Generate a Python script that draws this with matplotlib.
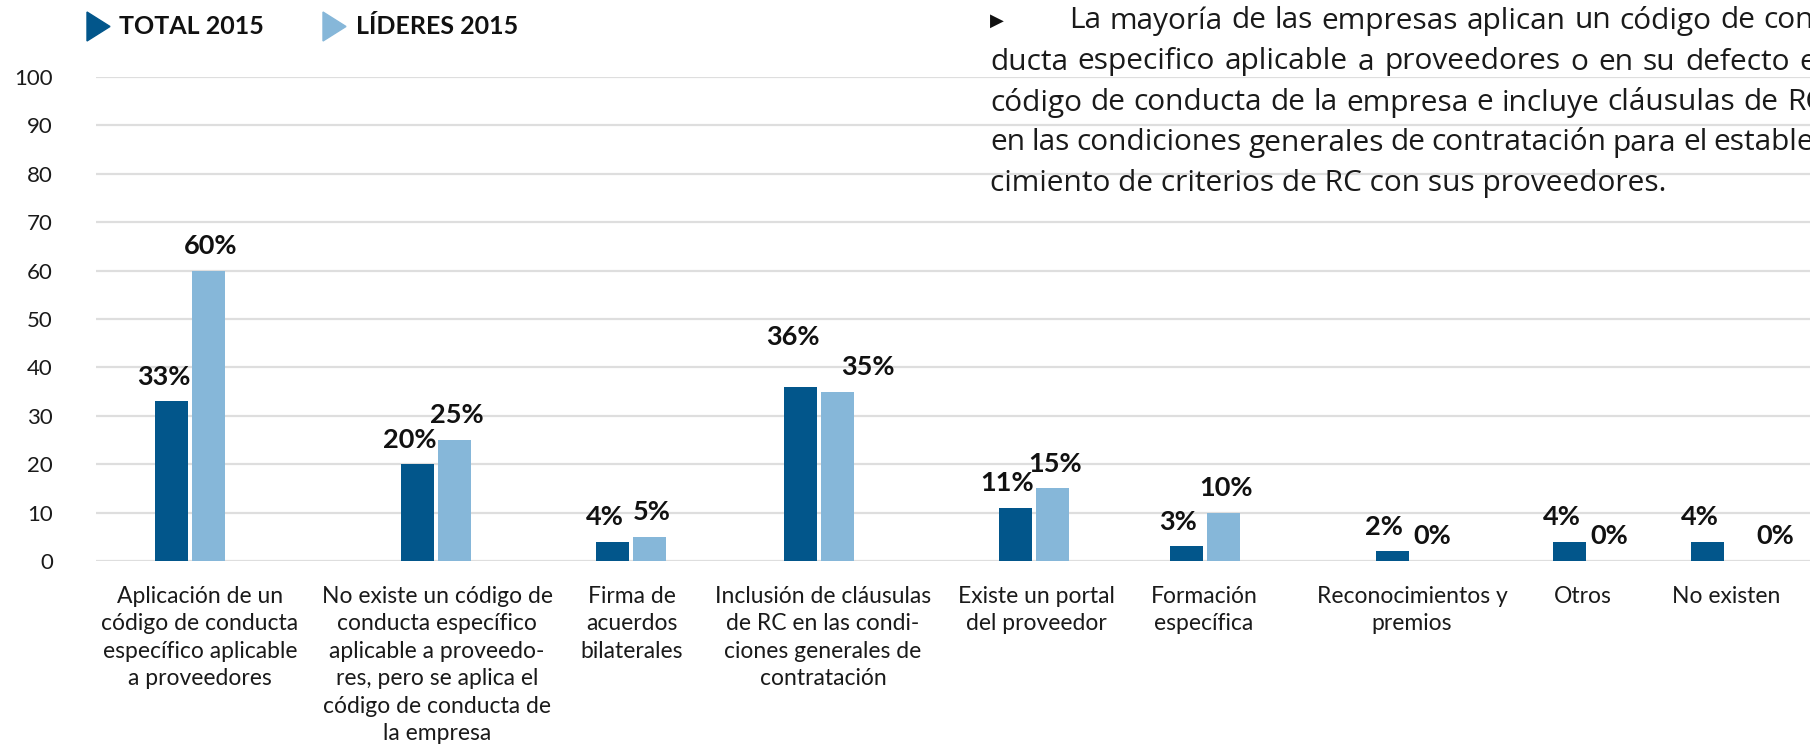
import numpy as np
import matplotlib.pyplot as plt
from matplotlib.patches import Polygon

plt.rcParams['font.family'] = ['Lato', 'DejaVu Sans']

categories = [
    "Aplicación de un\ncódigo de conducta\nespecífico aplicable\na proveedores",
    "No existe un código de\nconducta específico\naplicable a proveedo-\nres, pero se aplica el\ncódigo de conducta de\nla empresa",
    "Firma de\nacuerdos\nbilaterales",
    "Inclusión de cláusulas\nde RC en las condi-\nciones generales de\ncontratación",
    "Existe un portal\ndel proveedor",
    "Formación\nespecífica",
    "Reconocimientos y\npremios",
    "Otros",
    "No existen",
]
total_2015 = [33, 20, 4, 36, 11, 3, 2, 4, 4]
lideres_2015 = [60, 25, 5, 35, 15, 10, 0, 0, 0]
series_names = ["TOTAL 2015", "LÍDERES 2015"]

paragraph = [
    "La mayoría de las empresas aplican un código de con-",
    "ducta especifico aplicable a proveedores o en su defecto el",
    "código de conducta de la empresa e incluye cláusulas de RC",
    "en las condiciones generales de contratación para el estable-",
    "cimiento de criterios de RC con sus proveedores.",
]

DARK = '#02568b'
LIGHT = '#86b7d9'

W, H = 1810, 754
fig = plt.figure(figsize=(W / 100, H / 100), dpi=100)

# axes laid out in pixel units so group slots follow the original spacing
ax = fig.add_axes([96 / W, 193 / H, (W - 96) / W, 484 / H])
slot_x = np.array([190, 436, 631, 819, 1034, 1205, 1411, 1588, 1726])
label_x = np.array([200, 437, 632, 823, 1036, 1204, 1412, 1583, 1726])
bw = 33
gap = 3.5

b1 = ax.bar(slot_x - (bw + gap) / 2, total_2015, width=bw, color=DARK, zorder=3)
b2 = ax.bar(slot_x + (bw + gap) / 2, lideres_2015, width=bw, color=LIGHT, zorder=3)

for i, (r1, r2, v1, v2) in enumerate(zip(b1, b2, total_2015, lideres_2015)):
    # tall neighbouring bars with nearly equal values: stagger the labels
    close = min(v1, v2) > 20 and abs(v1 - v2) < 3
    d1 = (-6, 30 if close else 12)
    d2 = (22 if close else 2, 12)
    if v2 == 0 and i == len(total_2015) - 1:
        d2 = (22, 12)
    for rect, v, d in [(r1, v1, d1), (r2, v2, d2)]:
        ax.annotate(f"{v}%", (rect.get_x() + rect.get_width() / 2, v),
                    xytext=d, textcoords='offset points',
                    ha='center', va='baseline', fontsize=19.5,
                    fontweight='bold', color='#111111')

ax.set_xlim(96, W)
ax.set_ylim(0, 100)
ax.set_yticks(range(0, 101, 10))
ax.set_xticks(label_x)
ax.set_xticklabels(categories, fontsize=16.5, linespacing=1.38, color='#1a1a1a', va='top')
ax.tick_params(axis='y', length=0, pad=31, labelsize=16, labelcolor='#1a1a1a')
ax.tick_params(axis='x', length=0, pad=18)
ax.grid(axis='y', color='#dedede', linewidth=1.6, zorder=0)
ax.set_axisbelow(True)
for s in ax.spines.values():
    s.set_visible(False)

# legend: triangles + bold labels
for (x0, tx), name, col in zip([(87, 119), (323, 356)], series_names, [DARK, LIGHT]):
    tri = Polygon([[x0 / W, 1 - 12 / H], [x0 / W, 1 - 41 / H], [(x0 + 23) / W, 1 - 26.5 / H]],
                  closed=True, transform=fig.transFigure, color=col)
    fig.add_artist(tri)
    fig.text(tx / W, 1 - 26 / H, name, fontsize=18, fontweight='bold',
             va='center', ha='left', color='#111111')

# paragraph at top right, justified, running off the edge like the original
fig.text(990 / W, 1 - 21 / H, "▶", fontsize=13, va='center', ha='left',
         family=['DejaVu Sans'], color='#111111')
renderer = fig.canvas.get_renderer()
right_edge = 1824
line_y = [21, 62, 103, 143, 183]
fs = 21.5
for i, (txt, y) in enumerate(zip(paragraph, line_y)):
    x0 = 1069 if i == 0 else 990
    if i == len(paragraph) - 1:
        fig.text(x0 / W, 1 - y / H, txt, fontsize=fs, va='center', ha='left',
                 family=['Open Sans', 'DejaVu Sans'], color='#1a1a1a')
        continue
    words = txt.split(' ')
    items = [fig.text(0, 1 - y / H, w, fontsize=fs, va='center', ha='left',
                      family=['Open Sans', 'DejaVu Sans'], color='#1a1a1a') for w in words]
    widths = [t.get_window_extent(renderer).width for t in items]
    space = (right_edge - x0 - sum(widths)) / (len(words) - 1)
    x = x0
    for t, w in zip(items, widths):
        t.set_x(x / W)
        x += w + space

plt.savefig('out.png', dpi=100)
plt.close(fig)
